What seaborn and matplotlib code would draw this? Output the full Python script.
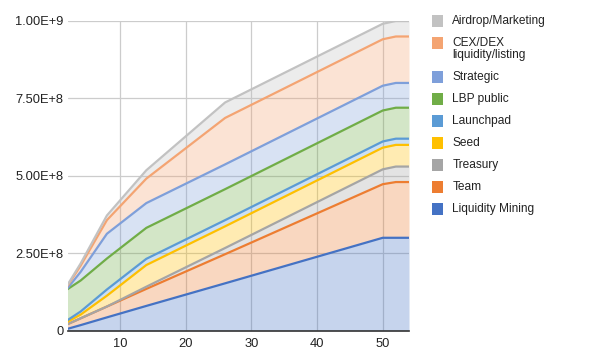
import matplotlib
matplotlib.use("Agg")
import matplotlib.pyplot as plt
from matplotlib.patches import Rectangle
import seaborn as sns
import pandas as pd
import numpy as np

# ---- data (token amounts, in millions) ----
months = [2, 4, 8, 14, 26, 50, 52, 54]
liquidity_mining = [6, 18, 43, 80, 153, 300, 300, 300]
team = [15, 22, 35, 55, 94, 173, 180, 180]
treasury = [0, 0, 0, 7, 20, 48, 50, 50]
seed = [8, 12, 35, 70, 70, 70, 70, 70]
launchpad = [5, 10, 20, 20, 20, 20, 20, 20]
lbp_public = [100, 100, 100, 100, 100, 100, 100, 100]
strategic = [3, 28, 80, 80, 80, 80, 80, 80]
cex_dex = [8, 20, 44, 79, 150, 150, 150, 150]
airdrop = [3, 7, 15, 27, 50, 50, 50, 50]

series_names = ["Liquidity Mining", "Team", "Treasury", "Seed", "Launchpad",
                "LBP public", "Strategic", "CEX/DEX liquidity/listing", "Airdrop/Marketing"]
series_values = [liquidity_mining, team, treasury, seed, launchpad,
                 lbp_public, strategic, cex_dex, airdrop]
colors = ["#4472C4", "#ED7D31", "#A5A5A5", "#FFC000", "#5B9BD5",
          "#70AD47", "#7E9FDA", "#F4A472", "#C2C2C2"]
legend_labels = ["Airdrop/Marketing", "CEX/DEX\nliquidity/listing", "Strategic", "LBP public",
                 "Launchpad", "Seed", "Treasury", "Team", "Liquidity Mining"]

y_ticks = [0, 2.5e8, 5e8, 7.5e8, 1e9]
y_tick_labels = ["0", "2.50E+8", "5.00E+8", "7.50E+8", "1.00E+9"]
x_ticks = [10, 20, 30, 40, 50]

# ---- build tidy table of cumulative boundaries ----
wide = pd.DataFrame({n: np.array(v, dtype=float) * 1e6 for n, v in zip(series_names, series_values)})
wide["month"] = months
cum = wide[series_names].cumsum(axis=1)
cum["month"] = months
long = cum.melt(id_vars="month", var_name="series", value_name="value")

sns.set_theme(style="white")
plt.rcParams["font.family"] = ["Liberation Sans", "DejaVu Sans"]

W, H = 594, 364
fig = plt.figure(figsize=(W / 100, H / 100), dpi=100)
L, R, T, B = 67.5, 409, 21, 330.7
ax = fig.add_axes([L / W, 1 - B / H, (R - L) / W, (B - T) / H])

# fills
lower = np.zeros(len(months))
for name, col in zip(series_names, colors):
    upper = cum[name].to_numpy()
    ax.fill_between(months, lower, upper, color=col, alpha=0.3, linewidth=0, zorder=2)
    lower = upper

# boundary lines via seaborn
sns.lineplot(data=long, x="month", y="value", hue="series", hue_order=series_names,
             palette=colors, linewidth=1.6, legend=False, ax=ax, zorder=3)

ax.set_xlim(2, 54)
ax.set_ylim(0, 1e9)
ax.set_xticks(x_ticks)
ax.set_xticklabels([str(t) for t in x_ticks])
ax.set_yticks(y_ticks)
ax.set_yticklabels(y_tick_labels)
ax.set_xlabel("")
ax.set_ylabel("")
ax.grid(True, color="#CCCCCC", linewidth=0.9, zorder=1)
ax.set_axisbelow(True)
for s in ["top", "right", "left"]:
    ax.spines[s].set_visible(False)
ax.spines["bottom"].set_color("#333333")
ax.spines["bottom"].set_linewidth(1.2)
ax.spines["bottom"].set_zorder(5)
ax.tick_params(axis="both", length=0, labelsize=9.3, colors="#222222")
ax.tick_params(axis="y", pad=3)
ax.tick_params(axis="x", pad=5)

# legend (manual, Google-Sheets style)
leg_y = [21, 48.8, 76.7, 99, 120.7, 142.7, 165, 186.7, 209]
sq_y = [21, 43.3, 76.7, 99, 120.7, 142.7, 165, 186.7, 209]
leg_colors = colors[::-1]
for lab, ty, sy, col in zip(legend_labels, leg_y, sq_y, leg_colors):
    fig.add_artist(Rectangle((431.7 / W, 1 - (sy + 5.8) / H), 11.6 / W, 11.6 / H,
                             transform=fig.transFigure, facecolor=col, edgecolor="none"))
    fig.text(452.3 / W, 1 - ty / H, lab, fontsize=8.6, color="#222222",
             va="center", ha="left", linespacing=0.95)

fig.savefig("out.png", dpi=100)
